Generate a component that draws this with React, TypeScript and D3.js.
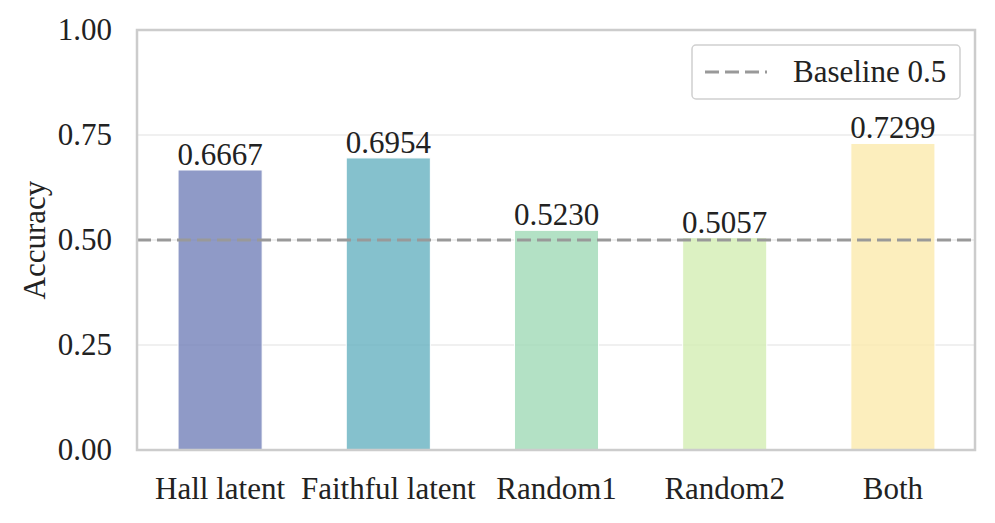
import React from "react";
import * as d3 from "d3";

const categories = ["Hall latent", "Faithful latent", "Random1", "Random2", "Both"];
const accuracy = [0.6667, 0.6954, 0.523, 0.5057, 0.7299];
const barColors = ["#7381b9", "#66b1c0", "#a0d9b6", "#d3edb3", "#fbeaad"];
const yTicks = [0, 0.25, 0.5, 0.75, 1.0];
const baseline = 0.5;
const legendLabel = "Baseline 0.5";
const yLabel = "Accuracy";

const W = 995;
const H = 523;
const m = { left: 136, right: 18, top: 30, bottom: 73 };
const FONT = "'Liberation Serif', 'Times New Roman', serif";
const FS = 31;

export default function App() {
  const x = d3
    .scaleBand<string>()
    .domain(categories)
    .range([m.left, W - m.right])
    .paddingInner(0.5)
    .paddingOuter(0.25);
  const y = d3.scaleLinear().domain([0, 1]).range([H - m.bottom, m.top]);
  const x0 = m.left + 1;
  const x1 = W - m.right - 2;

  return (
    <svg
      width={W}
      height={H}
      style={{ position: "absolute", left: 0, top: 0, background: "#fff", fontFamily: FONT }}
    >
      {yTicks.map((t) => (
        <line key={"g" + t} x1={x0} x2={x1} y1={y(t)} y2={y(t)} stroke="#ebebeb" strokeWidth={1.5} />
      ))}
      {categories.map((c, i) => (
        <rect
          key={c}
          x={x(c)}
          y={y(accuracy[i])}
          width={x.bandwidth()}
          height={y(0) - y(accuracy[i])}
          fill={barColors[i]}
          fillOpacity={0.8}
          stroke="#ffffff"
          strokeWidth={1}
        />
      ))}
      <line
        x1={x0}
        x2={x1}
        y1={y(baseline)}
        y2={y(baseline)}
        stroke="#999999"
        strokeWidth={3}
        strokeDasharray="14,6"
      />
      {categories.map((c, i) => (
        <text
          key={"v" + c}
          x={(x(c) as number) + x.bandwidth() / 2}
          y={y(accuracy[i]) - 5}
          textAnchor="middle"
          fontSize={FS}
          fill="#222"
        >
          {accuracy[i].toFixed(4)}
        </text>
      ))}
      <rect x={x0} y={m.top} width={x1 - x0} height={y(0) - m.top} fill="none" stroke="#cccccc" strokeWidth={2.5} />
      {yTicks.map((t) => (
        <text key={"t" + t} x={112} y={y(t)} dy="0.33em" textAnchor="end" fontSize={FS} fill="#222">
          {t.toFixed(2)}
        </text>
      ))}
      {categories.map((c) => (
        <text
          key={"x" + c}
          x={(x(c) as number) + x.bandwidth() / 2}
          y={y(0) + 49}
          textAnchor="middle"
          fontSize={FS}
          fill="#222"
        >
          {c}
        </text>
      ))}
      <text
        transform={`translate(45,${(m.top + y(0)) / 2}) rotate(-90)`}
        textAnchor="middle"
        fontSize={FS}
        fill="#222"
      >
        {yLabel}
      </text>
      <g>
        <rect x={692} y={45} width={268} height={54} rx={4} fill="#fff" fillOpacity={0.8} stroke="#d0d0d0" strokeWidth={1.5} />
        <line x1={705} x2={767} y1={72} y2={72} stroke="#999999" strokeWidth={3} strokeDasharray="14,6" />
        <text x={793} y={82} fontSize={FS} fill="#222">
          {legendLabel}
        </text>
      </g>
    </svg>
  );
}
